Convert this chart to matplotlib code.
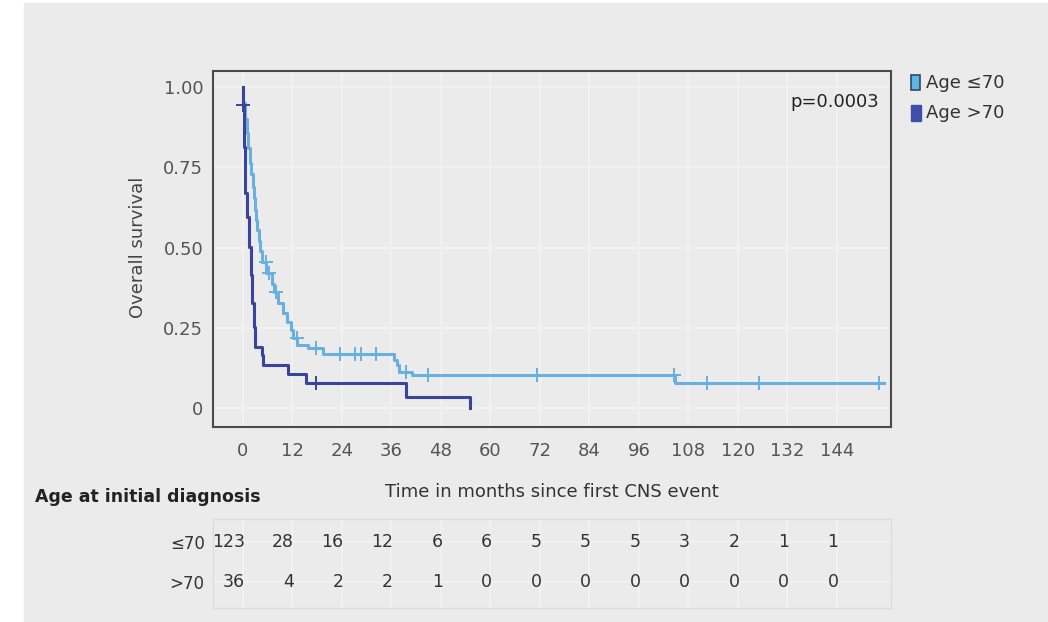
import numpy as np
import matplotlib.pyplot as plt
from matplotlib.patches import Rectangle

# Kaplan-Meier steps (months, survival), drawn with where='post'
young_t = [0, 0.1, 0.5, 0.9, 1.3, 1.7, 2.0, 2.35, 2.6, 2.9, 3.2, 3.5, 3.8, 4.1, 4.5,
           5.7, 7.0, 7.5, 8.6, 9.8, 10.7, 11.6, 12.2, 13.2, 15.8, 19.5, 36.5, 37.3,
           37.9, 40.9, 104.8, 155.3]
young_s = [1.0, 0.949, 0.90, 0.856, 0.81, 0.762, 0.73, 0.69, 0.655, 0.617, 0.585,
           0.555, 0.52, 0.49, 0.455, 0.42, 0.388, 0.362, 0.326, 0.295, 0.269, 0.243,
           0.217, 0.196, 0.186, 0.168, 0.149, 0.134, 0.113, 0.103, 0.077, 0.077]
young_cens = [5.5, 6.2, 8.0, 13.0, 17.8, 23.5, 27.1, 28.5, 32.3, 39.4, 44.8,
              71.3, 104.4, 112.6, 125.0, 154.2]

old_t = [0, 0.1, 0.3, 0.5, 0.9, 1.5, 1.9, 2.3, 2.7, 2.9, 4.5, 4.9, 11.0, 15.3, 39.5, 55.0]
old_s = [1.0, 0.944, 0.814, 0.669, 0.596, 0.503, 0.414, 0.326, 0.253, 0.191, 0.165,
         0.134, 0.106, 0.077, 0.035, 0.0]
old_cens = [0.1, 17.8]

# numbers at risk
months = np.arange(0, 145, 12)
risk_young = [123, 28, 16, 12, 6, 6, 5, 5, 5, 3, 2, 1, 1]
risk_old = [36, 4, 2, 2, 1, 0, 0, 0, 0, 0, 0, 0, 0]

light = '#68b0de'
dark = '#39449a'
bg = '#ebebeb'


def surv_at(t, s, times):
    idx = np.searchsorted(t, times, side='right') - 1
    return np.asarray(s)[idx]


fig = plt.figure(figsize=(10.48, 6.22), dpi=100)
fig.patch.set_facecolor('white')
fig.add_artist(Rectangle((24 / 1048, 0), 1, 1 - 3 / 622, transform=fig.transFigure,
                         color=bg, zorder=-10))

ax = fig.add_axes([213 / 1048, 1 - 427 / 622, 678 / 1048, 356 / 622])
ax.set_facecolor(bg)
ax.step(young_t, young_s, where='post', color=light, lw=2.2, zorder=3)
ax.plot(young_cens, surv_at(young_t, young_s, young_cens), ls='none', marker='+',
        ms=10, mew=1.4, color=light, zorder=3)
ax.step(old_t, old_s, where='post', color=dark, lw=2.2, zorder=4)
ax.plot(old_cens, surv_at(old_t, old_s, old_cens), ls='none', marker='+',
        ms=10, mew=1.4, color=dark, zorder=4)

ax.set_xlim(-7.27, 157.1)
ax.set_ylim(-0.059, 1.05)
ax.set_xticks(months)
ax.set_yticks([0, 0.25, 0.5, 0.75, 1.0])
ax.set_yticklabels(['0', '0.25', '0.50', '0.75', '1.00'])
ax.tick_params(length=0, labelsize=13, colors='#555555')
ax.tick_params(axis='x', pad=11)
ax.tick_params(axis='y', pad=7)
ax.grid(color='#f3f3f3', lw=1.2)
ax.set_axisbelow(True)
for sp in ax.spines.values():
    sp.set_color('#4a4a4a')
    sp.set_linewidth(1.5)

ax.text(154.2, 0.954, 'p=0.0003', ha='right', va='center', fontsize=13, color='#222222')

fig.text(138 / 1048, 1 - 247 / 622, 'Overall survival', rotation=90, ha='center',
         va='center', fontsize=13, color='#444444')
fig.text(552 / 1048, 1 - 492 / 622, 'Time in months since first CNS event',
         ha='center', va='center', fontsize=13, color='#333333')
fig.text(35 / 1048, 1 - 497 / 622, 'Age at initial diagnosis', ha='left',
         va='center', fontsize=12.5, fontweight='bold', color='#222222')

# legend
fig.add_artist(Rectangle((911 / 1048, 1 - 90 / 622), 9 / 1048, 15 / 622,
                         transform=fig.transFigure, facecolor='#5cb6e6',
                         edgecolor='#2d4a66', lw=1.2))
fig.add_artist(Rectangle((911 / 1048, 1 - 121 / 622), 10 / 1048, 16 / 622,
                         transform=fig.transFigure, facecolor='#3e4fa8',
                         edgecolor='#3e4fa8', lw=1))
fig.text(926 / 1048, 1 - 83 / 622, 'Age ≤70', ha='left', va='center',
         fontsize=13, color='#333333')
fig.text(926 / 1048, 1 - 113 / 622, 'Age >70', ha='left', va='center',
         fontsize=13, color='#333333')

# risk table
tab = fig.add_axes([213 / 1048, 1 - 608 / 622, 678 / 1048, 89 / 622])
tab.set_facecolor(bg)
tab.set_xlim(-7.27, 157.1)
tab.set_ylim(-0.65, 1.575)
tab.set_xticks(months)
tab.set_xticklabels([])
tab.set_yticks([0, 1])
tab.set_yticklabels(['>70', '≤70'])
tab.tick_params(length=0, labelsize=12, colors='#333333')
tab.tick_params(axis='y', pad=6)
tab.grid(color='#f3f3f3', lw=1.2)
for sp in tab.spines.values():
    sp.set_color('#dcdcdc')
    sp.set_linewidth(1)
for m, a, b in zip(months, risk_young, risk_old):
    tab.text(m + 0.4, 1, str(a), ha='right', va='center', fontsize=12.5, color='#333333')
    tab.text(m + 0.4, 0, str(b), ha='right', va='center', fontsize=12.5, color='#333333')

fig.savefig('out.png', dpi=100)
